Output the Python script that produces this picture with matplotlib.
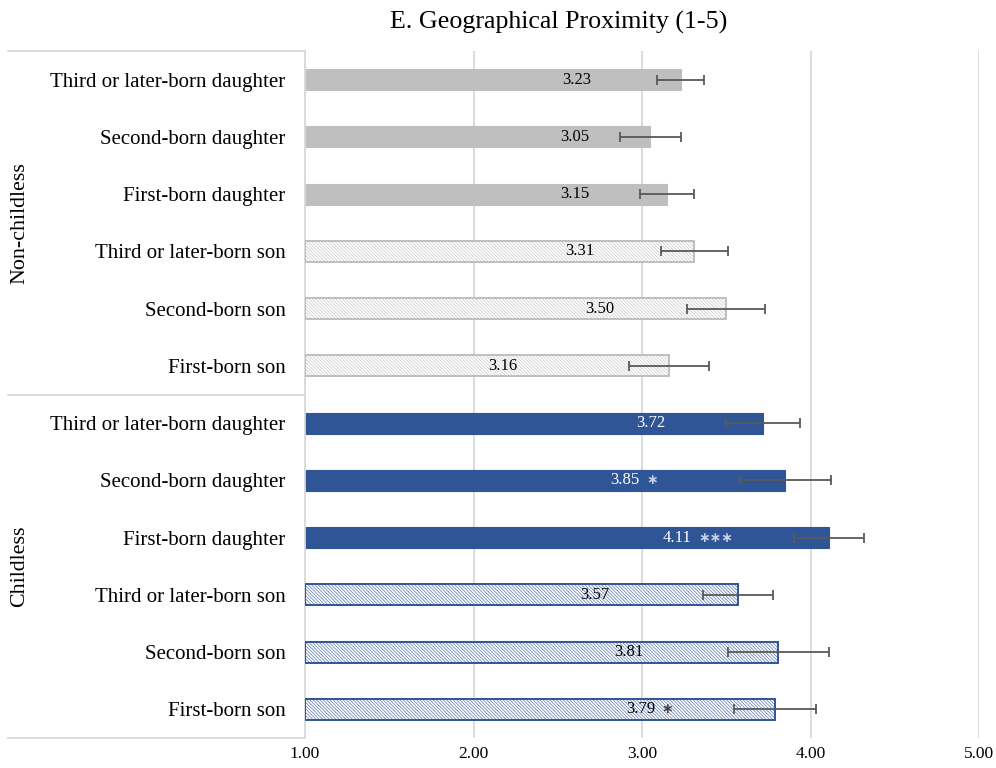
import matplotlib
matplotlib.use("Agg")
import matplotlib.pyplot as plt
import numpy as np

plt.rcParams['font.family'] = ['Liberation Serif', 'DejaVu Serif']
plt.rcParams['hatch.linewidth'] = 0.5

# Categories listed top to bottom
groups = ["Non-childless", "Childless"]
categories = [
    "Third or later-born daughter", "Second-born daughter", "First-born daughter",
    "Third or later-born son", "Second-born son", "First-born son",
    "Third or later-born daughter", "Second-born daughter", "First-born daughter",
    "Third or later-born son", "Second-born son", "First-born son",
]
means = [3.23, 3.05, 3.15, 3.31, 3.50, 3.16,
         3.72, 3.85, 4.11, 3.57, 3.81, 3.79]
errors = [0.14, 0.18, 0.16, 0.20, 0.23, 0.24,
          0.22, 0.27, 0.21, 0.21, 0.30, 0.245]
significance = ["", "", "", "", "", "",
                "", "*", "***", "", "", "*"]
xticks = [1.0, 2.0, 3.0, 4.0, 5.0]

# Where each value label sits along the bar (data units)
label_x = [2.61, 2.60, 2.60, 2.63, 2.75, 2.175,
           3.05, 2.90, 3.21, 2.72, 2.92, 2.99]

GRAY = "#BFBFBF"
GRAY_HATCH = "#C8C8C8"
BLUE = "#2F5597"
BLUE_HATCH = "#5577B5"
GRID = "#D9D9D9"
ERR = "#595959"

# style per row: (fill kind, colour)
styles = ([("solid", GRAY)] * 3 + [("hatch", GRAY)] * 3 +
          [("solid", BLUE)] * 3 + [("hatch", BLUE)] * 3)

fig = plt.figure(figsize=(9.96, 7.68), dpi=100)
W, H = 996, 768
x_left, x_right = 305, 979
y_top, y_bot = 51, 738
ax = fig.add_axes([x_left / W, 1 - y_bot / H, (x_right - x_left) / W, (y_bot - y_top) / H])

n = len(categories)
y = np.arange(n)
bar_h = 0.37

for i in range(n):
    kind, col = styles[i]
    base = 1.0
    width = means[i] - base
    if kind == "solid":
        ax.barh(y[i], width, left=base, height=bar_h, color=col, edgecolor=col,
                linewidth=0.8, zorder=2)
    else:
        hc = GRAY_HATCH if col == GRAY else BLUE_HATCH
        ax.barh(y[i], width, left=base, height=bar_h, color="white", edgecolor=hc,
                hatch="\\\\\\\\\\\\\\\\\\\\", linewidth=0, zorder=2)
        ax.barh(y[i], width, left=base, height=bar_h, fill=False, edgecolor=col,
                linewidth=1.4, zorder=3)

ax.errorbar(means, y, xerr=errors, fmt="none", ecolor=ERR, elinewidth=1.3,
            capsize=3.5, capthick=1.3, zorder=4)

for i in range(n):
    kind, col = styles[i]
    tcol = "white" if (kind == "solid" and col == BLUE) else "black"
    t = ax.text(label_x[i], y[i], f"{means[i]:.2f}", ha="center", va="center",
                fontsize=12, color=tcol, zorder=5)
    if significance[i]:
        scol = "#C9D3E8" if tcol == "white" else "#444444"
        stars = "\u2217" * len(significance[i])
        ax.annotate(stars, xy=(1, 0.5), xycoords=t, xytext=(5, 0),
                    textcoords="offset points", ha="left", va="center",
                    fontsize=10, color=scol, family="DejaVu Sans",
                    fontweight="bold", zorder=5)

ax.set_xlim(1, 5)
ax.set_ylim(n - 0.5, -0.5)
ax.set_xticks(xticks)
ax.set_xticklabels([f"{v:.2f}" for v in xticks], fontsize=12.5)
ax.set_yticks(y)
ax.set_yticklabels(categories, fontsize=15)
ax.tick_params(axis="both", length=0)
ax.tick_params(axis="y", pad=14)
ax.tick_params(axis="x", pad=6)

for s in ["top", "right", "bottom"]:
    ax.spines[s].set_visible(False)
ax.spines["left"].set_color(GRID)
ax.spines["left"].set_linewidth(1.3)

ax.xaxis.grid(True, color=GRID, linewidth=1.3, zorder=0)
ax.set_axisbelow(True)

# Category box lines in the label area (x in axes coords, y in data)
box_left = (8 - x_left) / (x_right - x_left)
for yy in [-0.5, 5.5, 11.5]:
    ax.plot([box_left, 0], [yy, yy], color=GRID, linewidth=1.3,
            transform=ax.get_yaxis_transform(), clip_on=False)
for gi, g in enumerate(groups):
    yc = 2.5 + 6 * gi
    ax.text((20 - x_left) / (x_right - x_left), yc, g, rotation=90,
            ha="center", va="center", fontsize=15.8,
            transform=ax.get_yaxis_transform())

fig.text(559 / W, 1 - 22 / H, "E. Geographical Proximity (1-5)",
         ha="center", va="center", fontsize=18.7)

fig.savefig("out.png", dpi=100)
